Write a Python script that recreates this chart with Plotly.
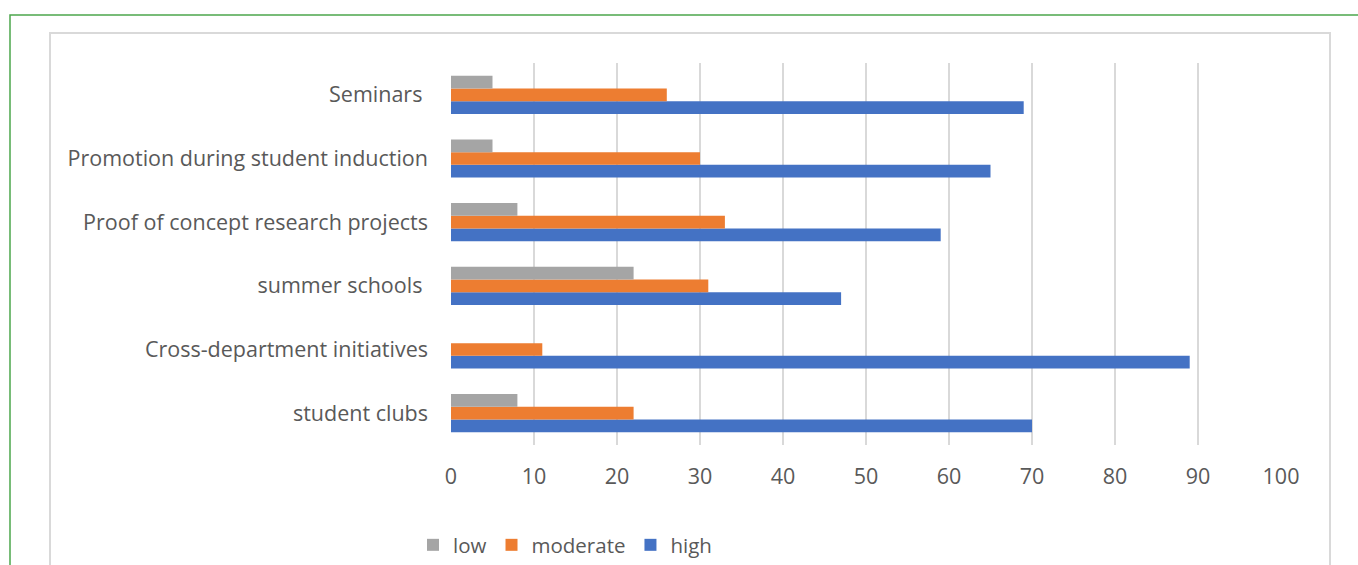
import plotly.graph_objects as go

categories = ["student clubs", "Cross-department initiatives", "summer schools ",
              "Proof of concept research projects", "Promotion during student induction", "Seminars "]
low = [8, 0, 22, 8, 5, 5]
moderate = [22, 11, 31, 33, 30, 26]
high = [70, 89, 47, 59, 65, 69]
x_ticks = [0, 10, 20, 30, 40, 50, 60, 70, 80, 90, 100]

W, H = 1358, 565
L, R, T, B = 451, 1281, 63, 445
FONT = "Open Sans"
TXT = "#595959"

def px(x):
    return (x - L) / (R - L)

def py(y):
    return (B - y) / (B - T)

fig = go.Figure()
fig.add_trace(go.Bar(name="high", y=categories, x=high, orientation="h",
                     marker=dict(color="#4472C4", line=dict(width=0)), legendrank=3))
fig.add_trace(go.Bar(name="moderate", y=categories, x=moderate, orientation="h",
                     marker=dict(color="#ED7D31", line=dict(width=0)), legendrank=2))
fig.add_trace(go.Bar(name="low", y=categories, x=low, orientation="h",
                     marker=dict(color="#A5A5A5", line=dict(width=0)), legendrank=1))

fig.update_layout(
    width=W, height=H,
    margin=dict(l=L, r=W - R, t=T, b=H - B, autoexpand=False),
    barmode="group", bargap=0.4, bargroupgap=0,
    paper_bgcolor="white", plot_bgcolor="white",
    font=dict(family=FONT, color=TXT, size=20),
    showlegend=True,
    legend=dict(orientation="h", x=px(565), xanchor="center", y=py(545), yanchor="middle",
                font=dict(size=20.5, color=TXT), itemwidth=30, tracegroupgap=0),
    shapes=[
        dict(type="rect", xref="paper", yref="paper", x0=px(10), x1=px(1375), y0=py(590), y1=py(15),
             line=dict(color="#4CA64C", width=1.5), layer="below"),
        dict(type="rect", xref="paper", yref="paper", x0=px(50), x1=px(1330), y0=py(590), y1=py(33),
             line=dict(color="#D9D9D9", width=2), layer="below"),
    ],
)
fig.update_xaxes(range=[0, 100], tickvals=x_ticks, ticktext=[str(v) for v in x_ticks],
                 showgrid=True, gridcolor="#D9D9D9", gridwidth=1.5, zeroline=False,
                 showline=False, ticks="", tickfont=dict(size=21.5, color=TXT), ticklabelstandoff=16)
fig.update_yaxes(type="category", categoryorder="array", categoryarray=categories,
                 showgrid=False, zeroline=False, showline=False, ticks="",
                 tickfont=dict(size=21.5, color=TXT), ticklabelstandoff=22)

fig.write_html("out.html")
